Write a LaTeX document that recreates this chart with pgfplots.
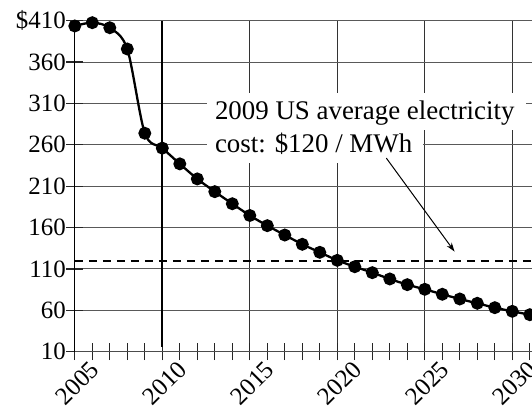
\documentclass[border=0pt]{standalone}
\usepackage{fontspec}
\setmainfont{Liberation Serif}
\usepackage{pgfplots}
\pgfplotsset{compat=1.18}
\usetikzlibrary{arrows.meta}
\newcommand\tk{\fontsize{25}{25}\selectfont}
\begin{document}
\begin{tikzpicture}
\begin{axis}[
  at={(74.8bp,64.3bp)}, anchor=south west,
  scale only axis, width=458.5bp, height=331bp,
  xmin=2005, xmax=2031.2, ymin=10, ymax=410,
  axis x line=bottom, axis y line=left,
  x axis line style={-, black!70, line width=1.2bp},
  y axis line style={-, black, line width=1.3bp},
  xtick={2005,2010,2015,2020,2025,2030},
  xticklabels={2005,2010,2015,2020,2025,2030},
  minor xtick={2006,...,2031},
  ytick={10,60,110,160,210,260,310,360,410},
  yticklabels={10,60,110,160,210,260,310,360,\$410},
  /pgf/number format/assume math mode=true,
  tick align=center, major tick length=17bp, minor tick length=17bp,
  every tick/.style={black!85, line width=1.2bp},
  xmajorgrids, ymajorgrids,
  major x grid style={black!80, line width=1.2bp},
  major y grid style={black!65, line width=1bp},
  yticklabel style={font=\tk, xshift=3bp},
  xticklabel style={font=\tk, rotate=45, anchor=north east, xshift=14bp, yshift=-6bp},
  clip=true,
]
\draw[black, line width=2bp] (axis cs:2010,16) -- (axis cs:2010,410);
\addplot[black, line width=2.3bp, dash pattern=on 8bp off 6bp] coordinates {(2005,120) (2031.2,120)};
\addplot[black, line width=2.3bp, smooth, mark=*, mark size=5.3bp, mark options={solid}] coordinates {
(2005,403.6) (2006,407.6) (2007,401.5) (2008,375.8) (2009,274) (2010,256)
(2011,237) (2012,218.8) (2013,203.4) (2014,188.8) (2015,174.6) (2016,162.3)
(2017,151) (2018,139.8) (2019,130.1) (2020,120.4) (2021,112.7) (2022,105.5)
(2023,97.9) (2024,91) (2025,85.4) (2026,79.4) (2027,73.7) (2028,68.5)
(2029,63.2) (2030,58.8) (2031,54.7)};
\fill[white] (axis cs:2012.55,322.6) rectangle (axis cs:2030.8,277.5);
\fill[white] (axis cs:2012.55,278) rectangle (axis cs:2024.9,238);
\node[anchor=base west, inner sep=0, font=\fontsize{27}{27}\selectfont] at (axis cs:2013.0,290) {2009 US average electricity};
\node[anchor=base west, inner sep=0, font=\fontsize{27}{27}\selectfont] at (axis cs:2013.0,251.3) {cost: \$120 / MWh};
\draw[-{Stealth[length=9bp,width=6bp]}, line width=1bp] (axis cs:2022.8,244) -- (axis cs:2026.7,131);
\end{axis}
\pgfresetboundingbox
\path[use as bounding box] (0,0) rectangle (532bp,416bp);
\end{tikzpicture}
\end{document}
